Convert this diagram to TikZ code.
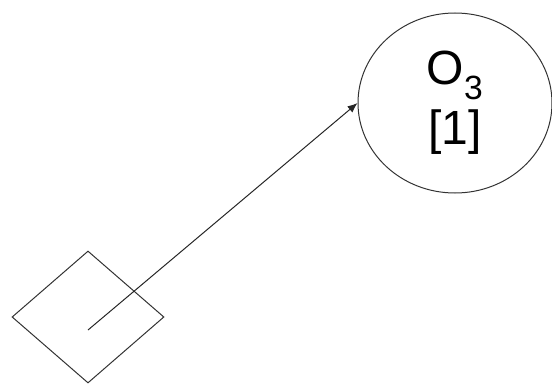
\documentclass[tikz,border=0pt]{standalone}
\usepackage{fontspec}
\setmainfont{Liberation Sans}
\usetikzlibrary{arrows.meta,shapes.geometric}

\begin{document}
\begin{tikzpicture}[
    x=1pt, y=1pt,
    gate/.style={diamond, draw=black!80, line width=1pt, inner sep=0pt,
        minimum width=152pt, minimum height=132pt},
    event/.style={ellipse, draw=black!80, line width=1pt, inner sep=0pt,
        minimum width=194pt, minimum height=180pt, align=center,
        font=\fontsize{48}{60}\selectfont},
    arrow/.style={-{Latex[length=10pt,width=8pt]}, line width=1pt, draw=black!85}
]
\useasboundingbox (0,0) rectangle (552,384);
\node[gate] (and) at (88,67) {};
\node[event] (o3) at (455,281) {O\textsubscript{3}\\{[1]}};
\coordinate (src) at (88,54);
\draw[arrow] (src) -- (o3.west);
\end{tikzpicture}
\end{document}
